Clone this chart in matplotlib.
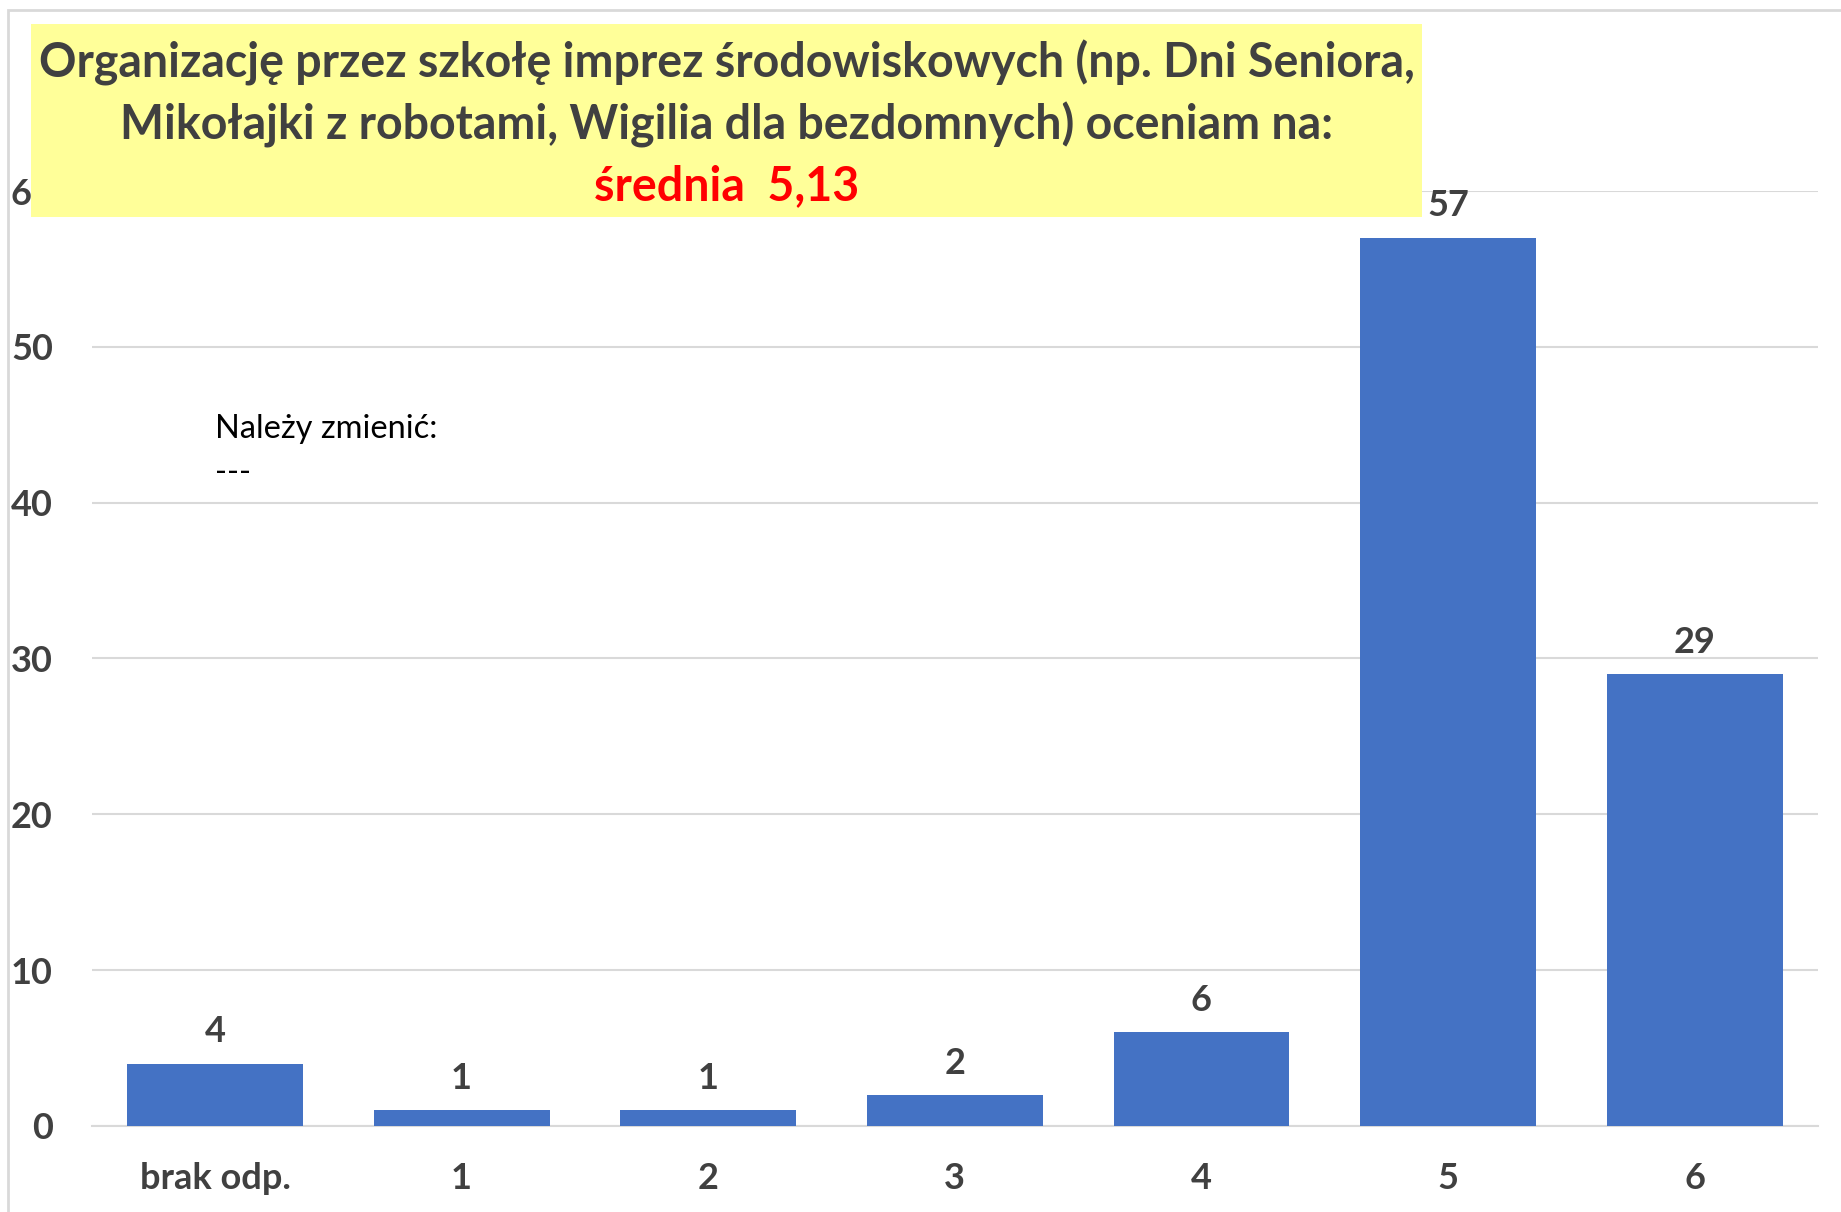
import matplotlib
matplotlib.use("Agg")
import matplotlib.pyplot as plt
from matplotlib.patches import Rectangle

# survey answers: school events rating
categories = ["brak odp.", "1", "2", "3", "4", "5", "6"]
counts = [4, 1, 1, 2, 6, 57, 29]
y_ticks = [0, 10, 20, 30, 40, 50, 60]

title_lines = ["Organizację przez szkołę imprez środowiskowych (np. Dni Seniora,",
               "Mikołajki z robotami, Wigilia dla bezdomnych) oceniam na:"]
mean_text = "średnia  5,13"
note_text = "Należy zmienić:\n---"

bar_color = "#4472C4"
text_color = "#404040"
grid_color = "#D9D9D9"

plt.rcParams['font.family'] = ['Lato', 'DejaVu Sans']

fig = plt.figure(figsize=(18.41, 12.12), dpi=100)
ax = fig.add_axes([0.0498, 0.0710, 0.9377, 0.7714])

x = list(range(len(categories)))
bars = ax.bar(x, counts, width=0.713, color=bar_color, zorder=3)

for xi, v in zip(x, counts):
    ax.annotate(str(v), (xi, v), xytext=(0, 11), textcoords="offset points",
                ha="center", va="bottom", fontsize=26, fontweight="bold",
                color=text_color, zorder=4)

ax.set_xlim(-0.5, len(categories) - 0.5)
ax.set_ylim(0, 60)
ax.set_yticks(y_ticks)
ax.set_xticks(x)
ax.set_xticklabels(categories)
ax.grid(axis="y", color=grid_color, linewidth=1.5, zorder=0)
for side in ["top", "right", "left"]:
    ax.spines[side].set_visible(False)
ax.spines["bottom"].set_color(grid_color)
ax.spines["bottom"].set_linewidth(1.5)
ax.tick_params(axis="both", length=0, labelsize=26, colors=text_color)
ax.tick_params(axis="y", pad=28)
ax.tick_params(axis="x", pad=26)
for lbl in ax.get_xticklabels() + ax.get_yticklabels():
    lbl.set_fontweight("bold")

ax.text(0.0714, 0.762, note_text, transform=ax.transAxes, fontsize=23.5,
        color="black", va="top", ha="left", linespacing=1.6)

# outer chart border
fig.add_artist(Rectangle((8 / 1841, -0.1), 1.2, (1212 - 10) / 1212 + 0.1,
                         transform=fig.transFigure, fill=False,
                         edgecolor=grid_color, linewidth=2, zorder=1))

# yellow title box
box_l, box_r = 31 / 1841, 1422 / 1841
box_b, box_t = (1212 - 217) / 1212, (1212 - 24) / 1212
fig.add_artist(Rectangle((box_l, box_b), box_r - box_l, box_t - box_b,
                         transform=fig.transFigure, facecolor="#FFFF99",
                         edgecolor="none", zorder=5))
cx = (box_l + box_r) / 2
fig.text(cx, 1 - 63 / 1212, title_lines[0], ha="center", va="center",
         fontsize=33.5, fontweight="bold", color=text_color, zorder=6)
fig.text(cx, 1 - 125 / 1212, title_lines[1], ha="center", va="center",
         fontsize=33.5, fontweight="bold", color=text_color, zorder=6)
fig.text(cx, 1 - 186 / 1212, mean_text, ha="center", va="center",
         fontsize=33.5, fontweight="bold", color="#FF0000", zorder=6)

fig.savefig("out.png", dpi=100)
